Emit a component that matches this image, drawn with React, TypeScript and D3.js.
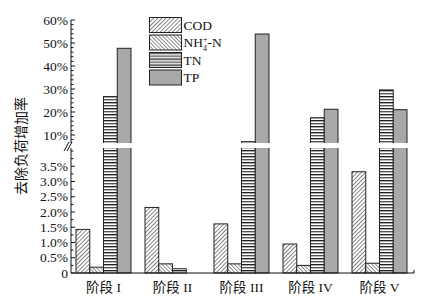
import React from "react";
import * as d3 from "d3";

const stages = ["I", "II", "III", "IV", "V"];
const seriesNames = ["COD", "NH4", "TN", "TP"];
const codValues = [1.43, 2.15, 1.61, 0.95, 3.32];
const nh4Values = [0.19, 0.3, 0.3, 0.25, 0.32];
const tnValues = [26.7, 0.14, 7.1, 17.5, 29.6];
const tpValues = [47.7, 0, 53.9, 21.2, 21.0];
const upperTicks = [10, 20, 30, 40, 50, 60];
const lowerTicks = [0, 0.5, 1.0, 1.5, 2.0, 2.5, 3.0, 3.5];

const seriesValues = [codValues, nh4Values, tnValues, tpValues];
const fills = ["url(#pCOD)", "url(#pNH4)", "url(#pTN)", "#a8a8a8"];

const serif = "'Liberation Serif', 'Times New Roman', 'Noto Sans CJK SC', serif";

export default function App() {
  const W = 448, H = 302;
  const axisX = 71, baseY = 273, xEnd = 414;
  const gapTop = 143, gapBot = 148;
  const x0 = d3.scaleBand<string>().domain(stages).range([69, 414]).padding(0);
  const x1 = d3.scaleBand<string>().domain(seriesNames).range([7, 62]).padding(0);
  const yU = d3.scaleLinear().domain([10, 60]).range([135, 20]);
  const yL = d3.scaleLinear().domain([0, 3.5]).range([baseY, 166.25]);
  const lowerMax = yL.invert(gapBot);

  const bars: React.ReactNode[] = [];
  stages.forEach((s, i) => {
    seriesNames.forEach((n, j) => {
      const v = seriesValues[j][i];
      if (!v) return;
      const x = (x0(s) as number) + (x1(n) as number);
      const w = x1.bandwidth();
      if (v <= lowerMax) {
        bars.push(
          <rect key={`${s}-${n}`} x={x} y={yL(v)} width={w} height={baseY - yL(v)} fill={fills[j]} stroke="#222" strokeWidth={1} />
        );
      } else {
        bars.push(
          <rect key={`${s}-${n}-l`} x={x} y={gapBot - 3} width={w} height={baseY - gapBot + 3} fill={fills[j]} stroke="#222" strokeWidth={1} />
        );
        const top = yU(v);
        bars.push(
          <rect key={`${s}-${n}-u`} x={x} y={top} width={w} height={gapTop + 3 - top} fill={fills[j]} stroke="#222" strokeWidth={1} />
        );
      }
    });
  });

  const upperMinor = d3.range(8, 60.01, 2).filter((t) => t % 10 !== 0);
  const lowerMinor = d3.range(0.25, 4.01, 0.25).filter((t) => Math.abs(t * 2 - Math.round(t * 2)) > 0.01 || t > 3.6);

  return (
    <svg width={W} height={H} style={{ position: "absolute", left: 0, top: 0, background: "#fff" }}>
      <defs>
        <pattern id="pCOD" width="2.9" height="2.9" patternUnits="userSpaceOnUse" patternTransform="rotate(45)">
          <rect width="2.9" height="2.9" fill="#fff" />
          <line x1="0" y1="0" x2="0" y2="2.9" stroke="#222" strokeWidth="1.1" />
        </pattern>
        <pattern id="pNH4" width="2.7" height="2.7" patternUnits="userSpaceOnUse" patternTransform="rotate(-45)">
          <rect width="2.7" height="2.7" fill="#fff" />
          <line x1="0" y1="0" x2="0" y2="2.7" stroke="#222" strokeWidth="1" />
        </pattern>
        <pattern id="pTN" width="6" height="6" patternUnits="userSpaceOnUse">
          <rect width="6" height="6" fill="#fff" />
          <line x1="0" y1="0.7" x2="6" y2="0.7" stroke="#111" strokeWidth="1.3" />
          <line x1="0" y1="3.7" x2="6" y2="3.7" stroke="#555" strokeWidth="1.4" />
        </pattern>
      </defs>

      {bars}

      {/* break gap */}
      <rect x={axisX + 1} y={gapTop} width={xEnd - axisX} height={gapBot - gapTop} fill="#fff" />

      {/* y axis */}
      <line x1={axisX} y1={20} x2={axisX} y2={gapTop} stroke="#111" strokeWidth={1} />
      <line x1={axisX} y1={gapBot} x2={axisX} y2={baseY} stroke="#111" strokeWidth={1} />
      <line x1={64} y1={151} x2={69} y2={142} stroke="#111" strokeWidth={1} />
      <line x1={67} y1={151} x2={72} y2={142} stroke="#111" strokeWidth={1} />

      {upperTicks.map((t) => (
        <g key={`u${t}`}>
          <line x1={axisX} x2={axisX + 4} y1={yU(t)} y2={yU(t)} stroke="#111" />
          <text x={68} y={yU(t)} dy="0.35em" textAnchor="end" fontFamily={serif} fontSize={13.5} fill="#111">{`${t}%`}</text>
        </g>
      ))}
      {upperMinor.map((t) => (
        <line key={`um${t}`} x1={axisX} x2={axisX + 2.5} y1={yU(t)} y2={yU(t)} stroke="#111" />
      ))}
      {lowerTicks.map((t) => (
        <g key={`l${t}`}>
          <line x1={axisX} x2={axisX + 4} y1={yL(t)} y2={yL(t)} stroke="#111" />
          <text x={68} y={yL(t)} dy="0.35em" textAnchor="end" fontFamily={serif} fontSize={13.5} fill="#111">{t === 0 ? "0" : `${t.toFixed(1)}%`}</text>
        </g>
      ))}
      {lowerMinor.map((t) => (
        <line key={`lm${t}`} x1={axisX} x2={axisX + 2.5} y1={yL(t)} y2={yL(t)} stroke="#111" />
      ))}

      {/* x axis */}
      <line x1={axisX} y1={baseY} x2={xEnd} y2={baseY} stroke="#111" strokeWidth={1} />
      <line x1={xEnd} y1={baseY} x2={xEnd} y2={baseY - 3} stroke="#111" strokeWidth={1} />
      {stages.map((s) => (
        <text key={`x${s}`} x={(x0(s) as number) + x0.bandwidth() / 2} y={292} textAnchor="middle" fontFamily={serif} fontSize={13.5} fill="#111">
          <tspan fontFamily="'Noto Sans CJK SC', sans-serif">阶段</tspan>
          <tspan> {s}</tspan>
        </text>
      ))}

      {/* y title */}
      <text transform="translate(21,146) rotate(-90)" textAnchor="middle" dy="0.35em" fontFamily="'Noto Sans CJK SC', sans-serif" fontSize={14} fill="#111">去除负荷增加率</text>

      {/* legend */}
      {seriesNames.map((n, j) => (
        <g key={`lg${n}`} transform={`translate(149.5,${17.5 + j * 17.5})`}>
          <rect width={32} height={15} fill={fills[j]} stroke="#222" strokeWidth={1} />
          <text x={34} y={7.5} dy="0.35em" fontFamily={serif} fontSize={13.5} fill="#111">
            {n === "NH4" ? (
              <>
                NH
                <tspan fontSize={8} dy="4">4</tspan>
                <tspan fontSize={8} dx="-4" dy="-9">+</tspan>
                <tspan dy="5">-N</tspan>
              </>
            ) : n}
          </text>
        </g>
      ))}
    </svg>
  );
}
